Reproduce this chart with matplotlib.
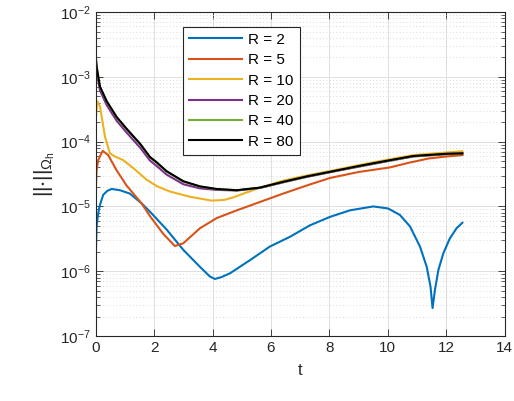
import matplotlib
matplotlib.use("Agg")
import matplotlib.pyplot as plt
from matplotlib.ticker import LogLocator, NullFormatter, MultipleLocator

plt.rcParams['font.family'] = ['Liberation Sans', 'DejaVu Sans']
plt.rcParams['mathtext.default'] = 'regular'

# -----------------------------
# DATA
# -----------------------------
t_r2 = [0, 0.034, 0.09, 0.147, 0.26, 0.4, 0.55, 0.83, 1.17, 1.57, 1.86, 2.43, 3.0,
        3.57, 3.91, 4.08, 4.3, 4.6, 5.28, 5.96, 6.65, 7.33, 8.02, 8.7, 9.5, 10.01,
        10.41, 10.76, 11.1, 11.33, 11.46, 11.53, 11.61, 11.73, 11.9, 12.12, 12.35, 12.55]
e_r2 = [1.41e-6, 4.9e-6, 7.9e-6, 1.05e-5, 1.51e-5, 1.74e-5, 1.86e-5, 1.78e-5, 1.58e-5,
        1.12e-5, 8.3e-6, 4.4e-6, 2.14e-6, 1.17e-6, 8.3e-7, 7.6e-7, 8.1e-7, 9.3e-7,
        1.48e-6, 2.4e-6, 3.4e-6, 5.1e-6, 6.9e-6, 8.7e-6, 1.0e-5, 9.3e-6, 7.4e-6, 4.9e-6,
        2.4e-6, 1.17e-6, 5.8e-7, 2.7e-7, 5.1e-7, 1.05e-6, 1.9e-6, 3.2e-6, 4.6e-6, 5.6e-6]

t_r5 = [0, 0.034, 0.09, 0.24, 0.43, 0.72, 1.06, 1.4, 1.57, 1.86, 2.31, 2.71, 3.0, 3.57,
        4.14, 4.83, 5.62, 6.42, 7.22, 8.02, 9.0, 10.07, 10.7, 11.4, 12.01, 12.55]
e_r5 = [1.41e-5, 3.6e-5, 5.2e-5, 7.2e-5, 6.2e-5, 3.6e-5, 2.1e-5, 1.38e-5, 1.12e-5,
        7.1e-6, 3.8e-6, 2.45e-6, 2.7e-6, 4.6e-6, 6.6e-6, 8.7e-6, 1.17e-5, 1.58e-5,
        2.1e-5, 2.75e-5, 3.4e-5, 4.0e-5, 4.7e-5, 5.5e-5, 5.9e-5, 6.2e-5]

t_r10 = [0, 0.056, 0.15, 0.32, 0.49, 0.66, 0.94, 1.29, 1.74, 2.1, 2.54, 3.23, 3.97,
         4.4, 4.71, 5.62, 6.42, 7.22, 8.13, 9.39, 10.87, 12.01, 12.55]
e_r10 = [2.1e-4, 4.2e-4, 3.5e-4, 1.2e-4, 6.6e-5, 5.9e-5, 5.2e-5, 3.9e-5, 2.6e-5, 2.05e-5,
         1.7e-5, 1.41e-5, 1.23e-5, 1.26e-5, 1.38e-5, 1.95e-5, 2.5e-5, 3.0e-5, 3.6e-5,
         4.7e-5, 6.2e-5, 6.8e-5, 7.1e-5]

t_r20 = [0, 0.034, 0.147, 0.38, 0.72, 1.06, 1.52, 1.86, 2.09, 2.43, 3.0, 3.57, 4.14,
         4.83, 5.62, 6.42, 7.22, 8.13, 9.0, 10.0, 10.87, 12.01, 12.55]
e_r20 = [1.9e-3, 1.25e-3, 6.2e-4, 3.65e-4, 2.1e-4, 1.38e-4, 8.1e-5, 5.1e-5, 4.2e-5,
         3.1e-5, 2.2e-5, 1.9e-5, 1.8e-5, 1.76e-5, 1.93e-5, 2.35e-5, 2.85e-5, 3.45e-5,
         4.1e-5, 5.0e-5, 5.9e-5, 6.4e-5, 6.55e-5]

t_r40 = [0, 0.034, 0.147, 0.38, 0.72, 1.06, 1.52, 1.86, 2.09, 2.43, 3.0, 3.57, 4.14,
         4.83, 5.62, 6.42, 7.22, 8.13, 9.0, 10.0, 10.87, 12.01, 12.55]
e_r40 = [2.15e-3, 1.42e-3, 7.0e-4, 4.15e-4, 2.37e-4, 1.56e-4, 9.2e-5, 5.7e-5, 4.7e-5,
         3.45e-5, 2.42e-5, 2.02e-5, 1.85e-5, 1.77e-5, 1.94e-5, 2.38e-5, 2.88e-5, 3.48e-5,
         4.15e-5, 5.05e-5, 5.95e-5, 6.45e-5, 6.58e-5]

t_r80 = [0, 0.034, 0.147, 0.38, 0.72, 1.06, 1.52, 1.86, 2.09, 2.43, 3.0, 3.57, 4.14,
         4.83, 5.62, 6.42, 7.22, 8.13, 9.0, 10.0, 10.87, 12.01, 12.55]
e_r80 = [2.2e-3, 1.45e-3, 7.1e-4, 4.2e-4, 2.4e-4, 1.58e-4, 9.3e-5, 5.8e-5, 4.8e-5,
         3.5e-5, 2.45e-5, 2.04e-5, 1.86e-5, 1.78e-5, 1.95e-5, 2.4e-5, 2.9e-5, 3.5e-5,
         4.2e-5, 5.1e-5, 6.0e-5, 6.5e-5, 6.6e-5]

series = [
    (t_r2, e_r2, "R = 2", "#0072BD"),
    (t_r5, e_r5, "R = 5", "#D95319"),
    (t_r10, e_r10, "R = 10", "#EDB120"),
    (t_r20, e_r20, "R = 20", "#7E2F8E"),
    (t_r40, e_r40, "R = 40", "#77AC30"),
    (t_r80, e_r80, "R = 80", "#000000"),
]

# -----------------------------
# PLOT
# -----------------------------
fig = plt.figure(figsize=(5.14, 4.01), dpi=100)
ax = fig.add_axes([0.186, 0.162, 0.796, 0.808])

for t, e, lab, col in series:
    ax.plot(t, e, color=col, lw=1.5, label=lab, solid_joinstyle='round')

ax.set_yscale('log')
ax.set_xlim(0, 14)
ax.set_ylim(1e-7, 1e-2)
ax.xaxis.set_major_locator(MultipleLocator(2))
ax.yaxis.set_major_locator(LogLocator(base=10, numticks=10))
ax.yaxis.set_minor_locator(LogLocator(base=10, subs=range(2, 10), numticks=20))
ax.yaxis.set_minor_formatter(NullFormatter())

ax.grid(True, which='major', color='#e0e0e0', lw=0.7, ls='-')
ax.grid(True, which='minor', axis='y', color='#cfcfcf', lw=0.6, ls=(0, (1, 3)))
ax.set_axisbelow(True)

ax.tick_params(which='both', direction='in', top=True, right=True,
               colors='#262626', labelsize=11)
ax.tick_params(which='major', length=5, width=0.6)
ax.tick_params(which='minor', length=3, width=0.5)
for sp in ax.spines.values():
    sp.set_color('#262626')
    sp.set_linewidth(0.8)

ax.set_xlabel("t", fontsize=12, color='#262626', labelpad=6)
ax.set_ylabel(r"$||{\cdot}||_{\Omega_h}$", fontsize=15, color='#262626', labelpad=2)

leg = ax.legend(loc='upper left', bbox_to_anchor=(0.213, 0.955), borderaxespad=0,
                fontsize=11, frameon=True, fancybox=False, edgecolor='#262626',
                framealpha=1, handlelength=3.5, handletextpad=0.4,
                labelspacing=0.42, borderpad=0.4)
leg.get_frame().set_linewidth(0.8)

plt.savefig("out.png", dpi=100)
